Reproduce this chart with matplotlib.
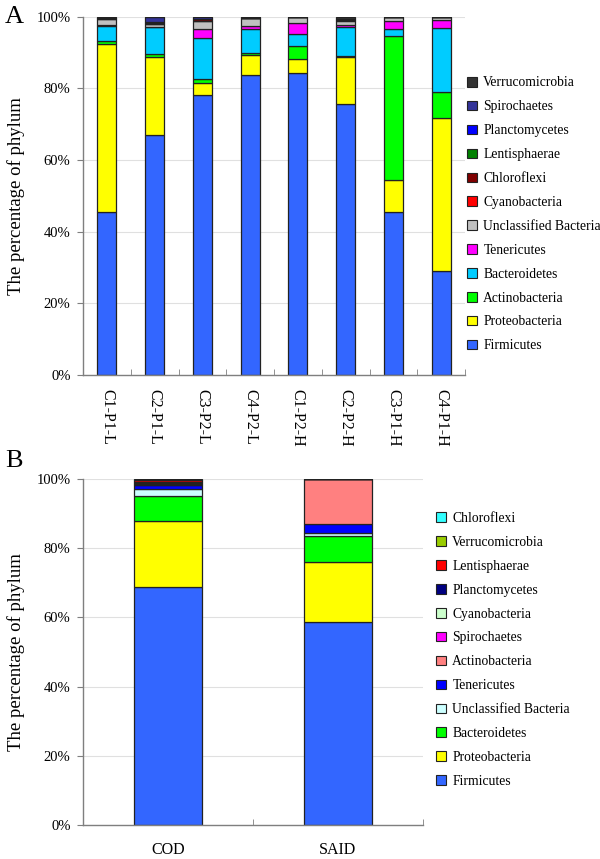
import matplotlib
matplotlib.use("Agg")
import matplotlib.pyplot as plt
from matplotlib.patches import Patch
import numpy as np

plt.rcParams['font.family'] = ['Liberation Serif', 'DejaVu Serif']

# ---------------- Panel A data ----------------
samples_a = ["C1-P1-L", "C2-P1-L", "C3-P2-L", "C4-P2-L",
             "C1-P2-H", "C2-P2-H", "C3-P1-H", "C4-P1-H"]
phyla_a = ["Firmicutes", "Proteobacteria", "Actinobacteria", "Bacteroidetes",
           "Tenericutes", "Unclassified Bacteria", "Cyanobacteria", "Chloroflexi",
           "Lentisphaerae", "Planctomycetes", "Spirochaetes", "Verrucomicrobia"]
colors_a = ["#3366FF", "#FFFF00", "#00FF00", "#00CCFF",
            "#FF00FF", "#C0C0C0", "#FF0000", "#800000",
            "#008000", "#0000FF", "#333399", "#333333"]
firmicutes_a      = [45.6, 67.0, 78.1, 83.7, 84.2, 75.6, 45.6, 29.1]
proteobacteria_a  = [46.8, 21.7, 3.5, 5.6, 4.0, 13.2, 8.8, 42.5]
actinobacteria_a  = [0.9, 0.9, 0.9, 0.7, 3.6, 0.3, 40.2, 7.5]
bacteroidetes_a   = [4.2, 7.4, 11.5, 6.5, 3.4, 7.9, 1.9, 17.7]
tenericutes_a     = [0.2, 0.0, 2.5, 0.9, 3.0, 0.7, 2.3, 2.3]
unclassified_a    = [1.6, 1.0, 2.4, 2.1, 1.8, 1.0, 1.2, 0.9]
cyanobacteria_a   = [0.0, 0.0, 0.0, 0.0, 0.0, 0.3, 0.0, 0.0]
chloroflexi_a     = [0.2, 0.3, 0.4, 0.0, 0.0, 0.3, 0.0, 0.0]
lentisphaerae_a   = [0.0, 0.0, 0.0, 0.0, 0.0, 0.0, 0.0, 0.0]
planctomycetes_a  = [0.0, 0.3, 0.0, 0.0, 0.0, 0.0, 0.0, 0.0]
spirochaetes_a    = [0.0, 1.4, 0.7, 0.0, 0.0, 0.0, 0.0, 0.0]
verrucomicrobia_a = [0.5, 0.0, 0.0, 0.5, 0.0, 0.7, 0.0, 0.0]
values_a = [firmicutes_a, proteobacteria_a, actinobacteria_a, bacteroidetes_a,
            tenericutes_a, unclassified_a, cyanobacteria_a, chloroflexi_a,
            lentisphaerae_a, planctomycetes_a, spirochaetes_a, verrucomicrobia_a]

# ---------------- Panel B data ----------------
groups_b = ["COD", "SAID"]
phyla_b = ["Firmicutes", "Proteobacteria", "Bacteroidetes", "Unclassified Bacteria",
           "Tenericutes", "Actinobacteria", "Spirochaetes", "Cyanobacteria",
           "Planctomycetes", "Lentisphaerae", "Verrucomicrobia", "Chloroflexi"]
colors_b = ["#3366FF", "#FFFF00", "#00FF00", "#CCFFFF",
            "#0000FF", "#FF8080", "#FF00FF", "#CCFFCC",
            "#000080", "#FF0000", "#99CC00", "#33FFFF"]
firmicutes_b      = [68.9, 58.7]
proteobacteria_b  = [19.1, 17.4]
bacteroidetes_b   = [7.2, 7.5]
unclassified_b    = [2.0, 0.9]
tenericutes_b     = [1.0, 2.4]
actinobacteria_b  = [0.2, 13.1]
spirochaetes_b    = [0.2, 0.0]
cyanobacteria_b   = [0.1, 0.0]
planctomycetes_b  = [0.3, 0.0]
lentisphaerae_b   = [0.6, 0.0]
verrucomicrobia_b = [0.2, 0.0]
chloroflexi_b     = [0.2, 0.0]
values_b = [firmicutes_b, proteobacteria_b, bacteroidetes_b, unclassified_b,
            tenericutes_b, actinobacteria_b, spirochaetes_b, cyanobacteria_b,
            planctomycetes_b, lentisphaerae_b, verrucomicrobia_b, chloroflexi_b]

yticks = [0, 20, 40, 60, 80, 100]
ytick_labels = ["0%", "20%", "40%", "60%", "80%", "100%"]

W, H = 600, 859
fig = plt.figure(figsize=(W / 100, H / 100), dpi=100)

spine_col = "#7f7f7f"
grid_col = "#e0e0e0"
edge_col = "#222222"


def style_axes(ax, n):
    for s in ["top", "right"]:
        ax.spines[s].set_visible(False)
    for s in ["left", "bottom"]:
        ax.spines[s].set_color(spine_col)
        ax.spines[s].set_linewidth(1.0)
    ax.set_ylim(0, 100)
    ax.set_yticks(yticks)
    ax.set_yticklabels(ytick_labels, fontsize=10.5)
    ax.tick_params(axis="y", direction="out", length=4, color=spine_col, pad=5)
    ax.set_xlim(0, n)
    ax.set_xticks(np.arange(n) + 0.5)
    ax.set_xticks(np.arange(n + 1), minor=True)
    ax.tick_params(axis="x", which="major", length=0)
    ax.tick_params(axis="x", which="minor", direction="in", length=4, color=spine_col)
    ax.yaxis.grid(True, color=grid_col, linewidth=0.8)
    ax.set_axisbelow(True)
    ax.set_ylabel("The percentage of phylum", fontsize=13.5, labelpad=8)


# ---------------- Panel A ----------------
axA = fig.add_axes([83 / W, 1 - 375 / H, 382 / W, 358.3 / H])
xa = np.arange(len(samples_a)) + 0.5
bottom = np.zeros(len(samples_a))
handles_a = []
for name, col, vals in zip(phyla_a, colors_a, values_a):
    vals = np.array(vals)
    axA.bar(xa, vals, width=0.4, bottom=bottom, color=col,
            edgecolor=edge_col, linewidth=0.9)
    bottom += vals
    handles_a.append(Patch(facecolor=col, edgecolor=edge_col, linewidth=0.8, label=name))
style_axes(axA, len(samples_a))
axA.set_xticklabels(samples_a, rotation=-90, fontsize=11.5, va="top", ha="center")
axA.tick_params(axis="x", which="major", pad=10)

legA = fig.legend(handles=handles_a[::-1], loc="upper left",
                  bbox_to_anchor=(467 / W, 1 - 76.5 / H), frameon=False,
                  fontsize=9.8, handlelength=0.7, handleheight=0.7,
                  handletextpad=0.5, labelspacing=0.8, borderpad=0, borderaxespad=0)

# ---------------- Panel B ----------------
axB = fig.add_axes([83 / W, 1 - 825 / H, 340 / W, 346 / H])
xb = np.arange(len(groups_b)) + 0.5
bottom = np.zeros(len(groups_b))
handles_b = []
for name, col, vals in zip(phyla_b, colors_b, values_b):
    vals = np.array(vals)
    axB.bar(xb, vals, width=0.4, bottom=bottom, color=col,
            edgecolor=edge_col, linewidth=0.9)
    bottom += vals
    handles_b.append(Patch(facecolor=col, edgecolor=edge_col, linewidth=0.8, label=name))
style_axes(axB, len(groups_b))
axB.set_xticklabels(groups_b, fontsize=11.5)
axB.tick_params(axis="x", which="major", pad=12)

legB = fig.legend(handles=handles_b[::-1], loc="upper left",
                  bbox_to_anchor=(436 / W, 1 - 512 / H), frameon=False,
                  fontsize=9.8, handlelength=0.7, handleheight=0.7,
                  handletextpad=0.5, labelspacing=0.8, borderpad=0, borderaxespad=0)

fig.text(5 / W, 1 - 17 / H, "A", fontsize=19, va="center", ha="left")
fig.text(5 / W, 1 - 461 / H, "B", fontsize=19, va="center", ha="left")

fig.savefig("out.png", dpi=100)
